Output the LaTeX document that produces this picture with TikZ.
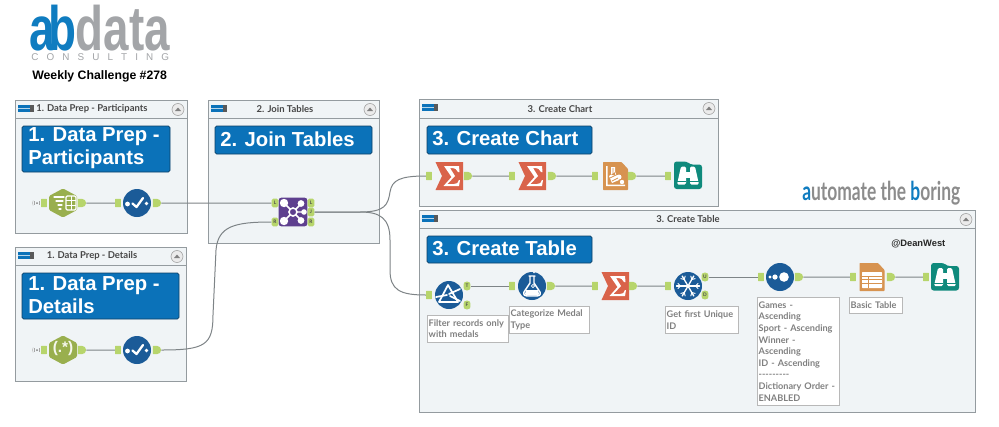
\documentclass[tikz,border=0pt]{standalone}
\usepackage{fontspec}
\usepackage{graphicx}
\setmainfont{Liberation Sans}
\newfontfamily\lato{Lato}
\usetikzlibrary{shapes.misc,shapes.geometric}
\definecolor{contfill}{HTML}{F0F4F6}
\definecolor{contline}{HTML}{949B9F}
\definecolor{bluebox}{HTML}{0B72B9}
\definecolor{blueline}{HTML}{0B3F66}
\definecolor{portgreen}{HTML}{B7D56C}
\definecolor{hexgreen}{HTML}{99AF4E}
\definecolor{circblue}{HTML}{1B5B98}
\definecolor{joinpurple}{HTML}{5E3F8F}
\definecolor{sigred}{HTML}{D9634A}
\definecolor{reporange}{HTML}{D79350}
\definecolor{browseteal}{HTML}{0F8A7C}
\definecolor{logoblue}{HTML}{0F7CC0}
\definecolor{logogrey}{HTML}{A3A5A8}
\definecolor{wire}{HTML}{7E8487}
\tikzset{
  x=.75pt,y=-.75pt,
  container/.style={draw=contline,line width=.75pt,fill=contfill},
  headrule/.style={draw=contline,line width=.6pt},
  headtxt/.style={font=\lato\bfseries\fontsize{7.1}{8}\selectfont,text=black!72,inner sep=0pt},
  titlebox/.style={draw=blueline,line width=.5pt,fill=bluebox,rounded corners=1.2pt},
  titletxt/.style={font=\bfseries\fontsize{15.2}{17.6}\selectfont,text=white,inner sep=0pt,align=left,anchor=west},
  inport/.style={rectangle,fill=portgreen,minimum width=4.4pt,minimum height=6.2pt,inner sep=0pt,rounded corners=.4pt},
  outport/.style={rounded rectangle,rounded rectangle west arc=none,fill=portgreen,minimum width=4.4pt,minimum height=6.2pt,inner sep=0pt},
  lblport/.style={rectangle,fill=portgreen,minimum width=5.2pt,minimum height=6.4pt,inner sep=0pt,rounded corners=1.2pt,font=\lato\bfseries\fontsize{3.6}{3.6}\selectfont,text=black!70},
  wireline/.style={draw=wire,line width=.75pt},
  note/.style={draw=black!28,line width=.5pt,fill=white,anchor=north west,align=left,inner xsep=1pt,inner ysep=0pt,font=\lato\bfseries\fontsize{6.85}{8.7}\selectfont,text=black!50},
  toolcirc/.style={circle,fill=circblue,minimum size=21pt,inner sep=0pt},
  ico/.style={draw=white,line width=.9pt,line cap=round,line join=round},
}
\newcommand{\contbox}[5]{%
  \draw[container] (#1,#2) rectangle (#3,#4);
  \draw[headrule] (#1,#5) -- (#3,#5);
  \fill[bluebox] (#1+3,#2+4.5) rectangle (#1+15,#2+11.5);
  \fill[black!65] (#1+15,#2+4.5) rectangle (#1+18.5,#2+11.5);
  \fill[white!70!bluebox] (#1+3,#2+7.6) rectangle (#1+15,#2+8.4);
  \draw[black!40,fill=black!8,line width=.4pt] (#3-9,#2+9.5) circle (6);
  \fill[black!50] (#3-12,#2+11) -- (#3-6,#2+11) -- (#3-9,#2+7.5) -- cycle;
}
\newcommand{\broadcast}[2]{%
  \fill[black!50] (#1,#2) circle (1);
  \draw[black!35,line width=.4pt] (#1,#2) ++(145:2.8) arc (145:215:2.8);
  \draw[black!25,line width=.4pt] (#1,#2) ++(145:4.6) arc (145:215:4.6);
  \draw[black!35,line width=.4pt] (#1,#2) ++(-35:2.8) arc (-35:35:2.8);
}
\newcommand{\hexagonshape}[2]{%
  \fill[hexgreen,rounded corners=1pt] (#1,#2-14.5) -- (#1+14,#2-7) -- (#1+14,#2+7) -- (#1,#2+14.5) -- (#1-14,#2+7) -- (#1-14,#2-7) -- cycle;
}
\newcommand{\iconsigma}[2]{%
  \fill[sigred] (#1-13.5,#2-14) -- (#1+14,#2-14) -- (#1+14,#2+14) -- (#1-13.5,#2+14) -- (#1-7,#2) -- cycle;
  \fill[white] (#1-5,#2-10) -- (#1+10,#2-10) -- (#1+10.5,#2-4) -- (#1+9,#2-4) .. controls (#1+8,#2-7) and (#1+6,#2-8) .. (#1+1,#2-8) -- (#1+6,#2) -- (#1-1.5,#2+8) -- (#1+5,#2+8) .. controls (#1+8,#2+8) and (#1+9,#2+7) .. (#1+10,#2+4) -- (#1+11,#2+4) -- (#1+10,#2+10) -- (#1-5.5,#2+10) -- (#1+2.5,#2+1) -- cycle;
}
\newcommand{\docshape}[2]{%
  \fill[reporange,rounded corners=.5pt] (#1-12.5,#2-14) -- (#1+6,#2-14) -- (#1+12.5,#2-7) -- (#1+12.5,#2+14) -- (#1-12.5,#2+14) -- cycle;
}
\newcommand{\iconbrowse}[2]{%
  \fill[browseteal,rounded corners=2pt] (#1-14,#2-14) -- (#1-1,#2-14) -- (#1+2,#2-11) -- (#1+14,#2-11) -- (#1+14,#2+13.5) -- (#1-14,#2+13.5) -- cycle;
  \fill[white,rounded corners=1pt] (#1-2,#2-9) -- (#1-7,#2-9) -- (#1-11,#2+9) -- (#1-2,#2+9) -- cycle;
  \fill[white,rounded corners=1pt] (#1+2,#2-9) -- (#1+7,#2-9) -- (#1+11,#2+9) -- (#1+2,#2+9) -- cycle;
  \fill[white] (#1-3,#2-4) rectangle (#1+3,#2+2);
  \fill[browseteal] (#1-11.5,#2+5.6) rectangle (#1-2,#2+6.6);
  \fill[browseteal] (#1+2,#2+5.6) rectangle (#1+11.5,#2+6.6);
}
\newcommand{\iconsel}[2]{%
  \fill[white] (#1-9.5,#2+1) circle (2.4);
  \fill[white] (#1+9.5,#2+.5) circle (1.8);
  \draw[ico,line width=1.7pt] (#1-4.5,#2+.5) -- (#1-.5,#2+4) -- (#1+6,#2-5);
}
\begin{document}
\begin{tikzpicture}
\useasboundingbox (0,0) rectangle (999,426);
\fill[white] (0,0) rectangle (999,426);

% logo
\node[inner sep=0pt,anchor=base west,font=\bfseries\fontsize{47}{47}\selectfont,text=logoblue] (logoab) at (29,50) {\scalebox{.73}[1]{a\kern-.125em b}};
\node[inner sep=0pt,anchor=base west,font=\bfseries\fontsize{47}{47}\selectfont,text=logogrey] (logodata) at (75.5,50) {\scalebox{.73}[1]{data}};
\node[inner sep=0pt,anchor=base west,font=\fontsize{7.4}{8}\selectfont,text=logogrey] (logocons) at (31,60) {C\hspace{6.1pt}O\hspace{6.1pt}N\hspace{6.1pt}S\hspace{6.1pt}U\hspace{6.1pt}L\hspace{6.1pt}T\hspace{6.1pt}I\hspace{6.1pt}N\hspace{6.1pt}G};
\node[inner sep=0pt,anchor=west,font=\bfseries\fontsize{9.2}{11}\selectfont] (wk) at (32,76) {Weekly Challenge \#278};
% automate
\node[inner sep=0pt,anchor=west,font=\lato\bfseries\fontsize{19.5}{20}\selectfont,text=black!45] (auto) at (802,193) {\scalebox{.67}[1]{\textcolor{logoblue}{a}utomate the \textcolor{logoblue}{b}oring}};

% containers
\contbox{15}{100}{187}{233}{118}
\contbox{15}{247}{186}{381}{265}
\contbox{208}{100}{379}{243}{118}
\contbox{419}{99}{718}{206}{118}
\contbox{419}{210}{975}{412}{228}

% header text
\node[headtxt,anchor=west] (h1) at (36,109) {1. Data Prep - Participants};
\node[headtxt] (h2) at (92,256) {1. Data Prep - Details};
\node[headtxt] (h3) at (285,109) {2. Join Tables};
\node[headtxt] (h4) at (560,109) {3. Create Chart};
\node[headtxt] (h5) at (688,219) {3. Create Table};

% title boxes
\draw[titlebox] (22,126) rectangle (170,172);
\node[titletxt] (t1) at (28,148) {1. Data Prep -\\Participants};
\draw[titlebox] (22,273) rectangle (179,319);
\node[titletxt] (t2) at (28,295) {1. Data Prep -\\Details};
\draw[titlebox] (215,126) rectangle (372,154);
\node[titletxt] (t3) at (220,139) {2. Join Tables};
\draw[titlebox] (427,126) rectangle (592,154);
\node[titletxt] (t4) at (432,138) {3. Create Chart};
\draw[titlebox] (427,236) rectangle (592,263);
\node[titletxt] (t5) at (432,248) {3. Create Table};

% tool icons
\broadcast{37}{203}
\hexagonshape{63}{203}
\draw[ico] (54,197) -- (64,197) (56,201) -- (63,201) (58,205) -- (62,205) (59,209) -- (61,209);
\draw[white,line width=.9pt,rounded corners=1pt] (66,196) rectangle (76,210);
\draw[white,line width=.6pt] (66,200.5) -- (76,200.5) (66,205) -- (76,205) (71,196) -- (71,210);
\node[toolcirc] (sel1) at (137,203) {};
\iconsel{137}{203}

\broadcast{37}{350}
\hexagonshape{63}{350}
\node[inner sep=0pt,font=\bfseries\fontsize{11.5}{12}\selectfont,text=white!90!hexgreen] (rx) at (63,349) {(.*)};
\node[toolcirc] (sel2) at (137,350) {};
\iconsel{137}{350}

% join
\node[rectangle,fill=joinpurple,minimum size=21.5pt,inner sep=0pt,rounded corners=2pt] (jn) at (293,212) {};
\draw[white,line width=1.1pt] (293,212) -- (284,203) (293,212) -- (301,204) (293,212) -- (303,212) (293,212) -- (284,221) (293,212) -- (301,220);
\fill[white] (284,203) circle (4.2) (301,203.5) circle (3.4) (304,212) circle (2.8) (284,221) circle (4.2) (301,220.5) circle (3.4);
\draw[white,fill=joinpurple,line width=1.2pt] (293,212) circle (4);

% chart row
\iconsigma{449}{176}
\iconsigma{532}{176}
\docshape{615.5}{176}
\fill[white] (606,166) rectangle (607.5,186) (606,184.5) rectangle (625,186);
\fill[white] (611,167) rectangle (615,175) (609,176) -- (615,172) -- (619,180) -- (612,183) -- cycle;
\fill[white] (619,177) circle (2.5) (622,182) circle (2.2);
\draw[reporange,line width=.6pt] (610,178) -- (618,174) (612,181) -- (618,178) (613,168) -- (613,175);
\iconbrowse{688}{175.5}

% table row
\node[toolcirc] (flt) at (449,295) {};
\draw[ico,line width=1.3pt] (448,285) -- (439,302) -- (458,302) -- cycle;
\draw[ico,line width=1.3pt] (436,297) -- (447,295) (449,294) -- (460,289) (450,296) -- (460,301);
\node[toolcirc] (frm) at (532,286) {};
\draw[ico,line width=1.1pt] (529,276) -- (535,276) (530,276) -- (530,283) -- (524,292) .. controls (523,295) and (525,296) .. (527,296) -- (537,296) .. controls (539,296) and (541,295) .. (540,292) -- (534,283) -- (534,276);
\fill[white] (526,290) -- (538,290) -- (539,294) -- (538,295.5) -- (526,295.5) -- (525,294) -- cycle (534,272.5) circle (.9);
\draw[white,line width=.6pt] (533,286) circle (1.6);
\iconsigma{615}{286}
\node[toolcirc] (unq) at (688,286) {};
\foreach \a in {0,60,...,300}{\draw[ico,line width=1pt] (688,286) -- ++(\a:11.5);\draw[ico,line width=.7pt] (688,286) ++(\a:7.5) -- ++(\a+45:3.5) (688,286) ++(\a:7.5) -- ++(\a-45:3.5);}
\node[toolcirc] (srt) at (780,277) {};
\fill[white] (770,277) circle (1.6) (775,277) circle (2.6) (784,277) circle (4.8);
\docshape{872}{277}
\fill[white,rounded corners=.5pt] (862,272) rectangle (882,288);
\draw[reporange,line width=.7pt] (862,276) -- (882,276) (862,279.5) -- (882,279.5) (862,283) -- (882,283) (868,276) -- (868,288);
\iconbrowse{945}{277}

% ports
\node[inport] (p1i) at (44,203) {};
\node[outport] (p1o) at (82,203) {};
\node[inport] (p2i) at (118,203) {};
\node[outport] (p2o) at (157,203) {};
\node[inport] (p3i) at (44,350) {};
\node[outport] (p3o) at (82,350) {};
\node[inport] (p4i) at (118,350) {};
\node[outport] (p4o) at (157,350) {};
\node[lblport] (jL) at (275,203) {L};
\node[lblport] (jR) at (275,222) {R};
\node[lblport] (joL) at (311,203) {L};
\node[lblport] (joJ) at (311,212) {J};
\node[lblport] (joR) at (311,222) {R};
\node[inport] (c1i) at (429,176) {};
\node[outport] (c1o) at (468,176) {};
\node[inport] (c2i) at (512,176) {};
\node[outport] (c2o) at (552,176) {};
\node[inport] (c3i) at (595,176) {};
\node[outport] (c3o) at (632,176) {};
\node[inport] (c4i) at (668,176) {};
\node[inport] (f1i) at (429,295) {};
\node[lblport,rounded corners=2pt] (fT) at (467,286) {T};
\node[lblport,rounded corners=2pt] (fF) at (467,305) {F};
\node[inport] (f2i) at (512,286) {};
\node[outport] (f2o) at (551,286) {};
\node[inport] (f3i) at (595,286) {};
\node[outport] (f3o) at (633,286) {};
\node[inport] (f4i) at (668,286) {};
\node[lblport,rounded corners=2pt] (uU) at (705,277) {U};
\node[lblport,rounded corners=2pt] (uD) at (705,295) {D};
\node[inport] (s1i) at (761,277) {};
\node[outport] (s1o) at (799,277) {};
\node[inport] (s2i) at (853,277) {};
\node[outport] (s2o) at (891,277) {};
\node[inport] (s3i) at (926,277) {};

% connectors
\draw[wireline] (p1o) -- (p2i);
\draw[wireline] (p3o) -- (p4i);
\draw[wireline] (p2o) -- (jL);
\draw[wireline] (p4o) .. controls (205,350) and (213,345) .. (213,315) -- (216,250) .. controls (218,226) and (235,222) .. (jR);
\draw[wireline] (joJ) -- (360,212) .. controls (385,212) and (388,205) .. (390,192) .. controls (392,180) and (400,176) .. (c1i);
\draw[wireline] (joJ) -- (360,212) .. controls (380,212) and (390,218) .. (390,240) -- (390,270) .. controls (390,290) and (400,295) .. (f1i);
\draw[wireline] (c1o) -- (c2i);
\draw[wireline] (c2o) -- (c3i);
\draw[wireline] (c3o) -- (c4i);
\draw[wireline] (fT) -- (f2i);
\draw[wireline] (f2o) -- (f3i);
\draw[wireline] (f3o) -- (f4i);
\draw[wireline] (uU) -- (s1i);
\draw[wireline] (s1o) -- (s2i);
\draw[wireline] (s2o) -- (s3i);

% annotations
\node[note,minimum height=20.2pt,text width=58.5pt] (n1) at (427,315) {Filter records only\\with medals};
\node[note,minimum height=20.2pt,text width=58pt] (n2) at (509,306) {Categorize Medal\\Type};
\node[note,minimum height=20.2pt,text width=53pt] (n3) at (665,306) {Get first Unique\\ID};
\node[note,minimum height=81pt,text width=59.5pt] (n4) at (757,297) {Games -\\Ascending\\Sport - Ascending\\Winner -\\Ascending\\ID - Ascending\\-{}-{}-{}-{}-{}-{}-{}-{}-\\Dictionary Order -\\ENABLED};
\node[note,minimum height=12pt,text width=38pt] (n5) at (849,297) {Basic Table};
\node[inner sep=0pt,anchor=west,font=\bfseries\fontsize{7}{8}\selectfont,text=black!85] (dw) at (891,244) {@DeanWest};
\end{tikzpicture}
\end{document}
